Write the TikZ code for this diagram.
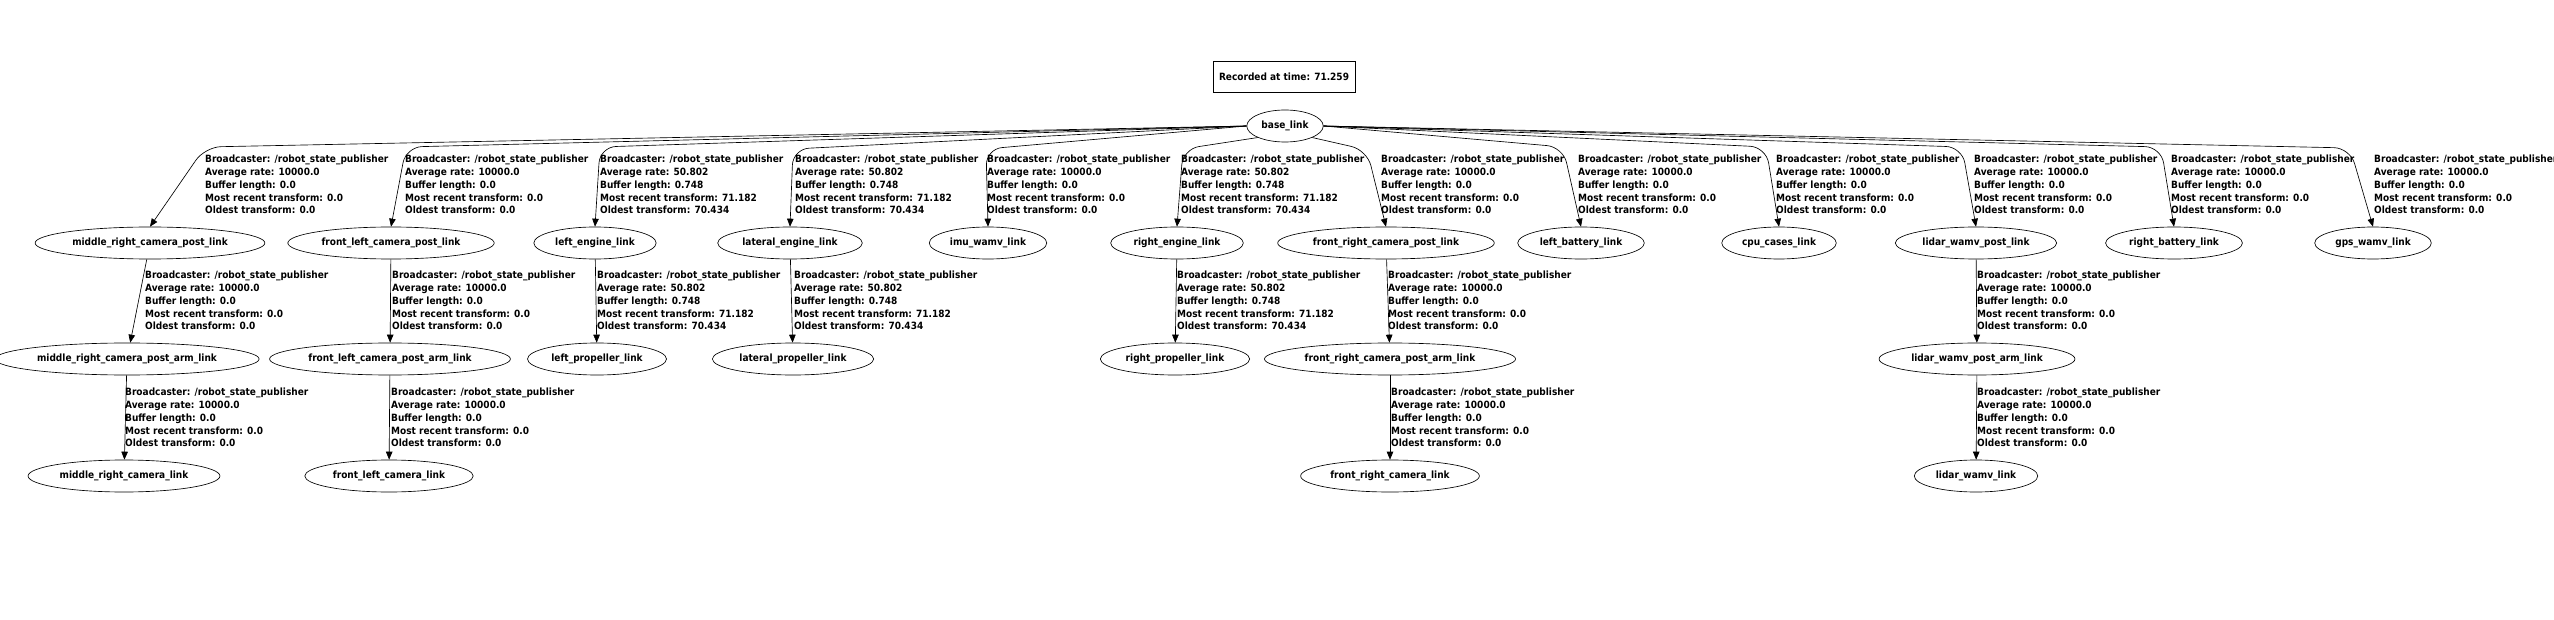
\documentclass[tikz,border=0pt]{standalone}
\usepackage{fontspec}
\setmainfont{DejaVu Sans}[FakeStretch=0.9]
\usetikzlibrary{shapes.geometric,arrows.meta}

\newcommand{\statictf}{Broadcaster: /robot\_state\_publisher\\Average rate: 10000.0\\Buffer length: 0.0\\Most recent transform: 0.0\\Oldest transform: 0.0}
\newcommand{\enginetf}{Broadcaster: /robot\_state\_publisher\\Average rate: 50.802\\Buffer length: 0.748\\Most recent transform: 71.182\\Oldest transform: 70.434}

\begin{document}
\begin{tikzpicture}[x=1pt, y=-1pt,
    every node/.style={font=\bfseries\fontsize{10}{12.8}\selectfont},
    linkbox/.style={draw, ellipse, line width=0.65pt, minimum height=32pt, inner xsep=3.5pt, inner ysep=0pt},
    stampbox/.style={draw, line width=0.65pt, minimum width=142pt, minimum height=31pt},
    tfinfo/.style={anchor=north west, align=left, inner sep=0pt},
    tfedge/.style={-{Triangle[length=8pt,width=6.5pt]}, line width=0.65pt, rounded corners=16pt}]

        \useasboundingbox[fill=white] (0,0) rectangle (2554,620);

        \node(STAMP)[stampbox] at (1284,77) {Recorded at time: 71.259};
        \node(BASE)[linkbox] at (1285,126) {base\_link};

        % first level:
        \node(MRCP)[linkbox] at (150,243) {middle\_right\_camera\_post\_link};
        \node(FLCP)[linkbox] at (391,243) {front\_left\_camera\_post\_link};
        \node(LE)[linkbox] at (595,243) {left\_engine\_link};
        \node(LAE)[linkbox] at (790,243) {lateral\_engine\_link};
        \node(IMU)[linkbox] at (988,243) {imu\_wamv\_link};
        \node(RE)[linkbox] at (1177,243) {right\_engine\_link};
        \node(FRCP)[linkbox] at (1386,243) {front\_right\_camera\_post\_link};
        \node(LB)[linkbox] at (1581,243) {left\_battery\_link};
        \node(CPU)[linkbox] at (1779,243) {cpu\_cases\_link};
        \node(LWP)[linkbox] at (1976,243) {lidar\_wamv\_post\_link};
        \node(RB)[linkbox] at (2174,243) {right\_battery\_link};
        \node(GPS)[linkbox] at (2373,243) {gps\_wamv\_link};

        \draw[tfedge] (BASE.west) -- (205,147) -- (MRCP.north);
        \draw[tfedge] (BASE.west) -- (406,147) -- (FLCP.north);
        \draw[tfedge] (BASE.west) -- (600,147) -- (LE.north);
        \draw[tfedge] (BASE.west) -- (793,149) -- (LAE.north);
        \draw[tfedge] (BASE.west) -- (986,149) -- (IMU.north);
        \draw[tfedge] (BASE.south west) -- (1183,149) -- (RE.north);
        \draw[tfedge] (BASE.south east) -- (1367,150) -- (FRCP.north);
        \draw[tfedge] (BASE.east) -- (1563,147) -- (LB.north);
        \draw[tfedge] (BASE.east) -- (1766,147) -- (CPU.north);
        \draw[tfedge] (BASE.east) -- (1962,147) -- (LWP.north);
        \draw[tfedge] (BASE.east) -- (2161,147) -- (RB.north);
        \draw[tfedge] (BASE.east) -- (2350,148) -- (GPS.north);

        \node(TMRCP)[tfinfo] at (205,155) {\statictf};
        \node(TFLCP)[tfinfo] at (405,155) {\statictf};
        \node(TLE)[tfinfo] at (600,155) {\enginetf};
        \node(TLAE)[tfinfo] at (795,155) {\enginetf};
        \node(TIMU)[tfinfo] at (987,155) {\statictf};
        \node(TRE)[tfinfo] at (1181,155) {\enginetf};
        \node(TFRCP)[tfinfo] at (1381,155) {\statictf};
        \node(TLB)[tfinfo] at (1578,155) {\statictf};
        \node(TCPU)[tfinfo] at (1776,155) {\statictf};
        \node(TLWP)[tfinfo] at (1974,155) {\statictf};
        \node(TRB)[tfinfo] at (2171,155) {\statictf};
        \node(TGPS)[tfinfo] at (2374,155) {\statictf};

        % second level:
        \node(MRCPA)[linkbox] at (127,359) {middle\_right\_camera\_post\_arm\_link};
        \node(FLCPA)[linkbox] at (390,359) {front\_left\_camera\_post\_arm\_link};
        \node(LP)[linkbox] at (597,359) {left\_propeller\_link};
        \node(LAP)[linkbox] at (793,359) {lateral\_propeller\_link};
        \node(RP)[linkbox] at (1175,359) {right\_propeller\_link};
        \node(FRCPA)[linkbox] at (1390,359) {front\_right\_camera\_post\_arm\_link};
        \node(LWPA)[linkbox] at (1977,359) {lidar\_wamv\_post\_arm\_link};

        \draw[tfedge] (MRCP) -- (MRCPA);
        \draw[tfedge] (FLCP) -- (FLCPA);
        \draw[tfedge] (LE) -- (LP);
        \draw[tfedge] (LAE) -- (LAP);
        \draw[tfedge] (RE) -- (RP);
        \draw[tfedge] (FRCP) -- (FRCPA);
        \draw[tfedge] (LWP) -- (LWPA);

        \node(TMRCPA)[tfinfo] at (145,271) {\statictf};
        \node(TFLCPA)[tfinfo] at (392,271) {\statictf};
        \node(TLP)[tfinfo] at (597,271) {\enginetf};
        \node(TLAP)[tfinfo] at (794,271) {\enginetf};
        \node(TRP)[tfinfo] at (1177,271) {\enginetf};
        \node(TFRCPA)[tfinfo] at (1388,271) {\statictf};
        \node(TLWPA)[tfinfo] at (1977,271) {\statictf};

        % third level:
        \node(MRC)[linkbox] at (124,476) {middle\_right\_camera\_link};
        \node(FLC)[linkbox] at (389,476) {front\_left\_camera\_link};
        \node(FRC)[linkbox] at (1390,476) {front\_right\_camera\_link};
        \node(LW)[linkbox] at (1976,476) {lidar\_wamv\_link};

        \draw[tfedge] (MRCPA) -- (MRC);
        \draw[tfedge] (FLCPA) -- (FLC);
        \draw[tfedge] (FRCPA) -- (FRC);
        \draw[tfedge] (LWPA) -- (LW);

        \node(TMRC)[tfinfo] at (125,388) {\statictf};
        \node(TFLC)[tfinfo] at (391,388) {\statictf};
        \node(TFRC)[tfinfo] at (1391,388) {\statictf};
        \node(TLW)[tfinfo] at (1977,388) {\statictf};

    \end{tikzpicture}
\end{document}
